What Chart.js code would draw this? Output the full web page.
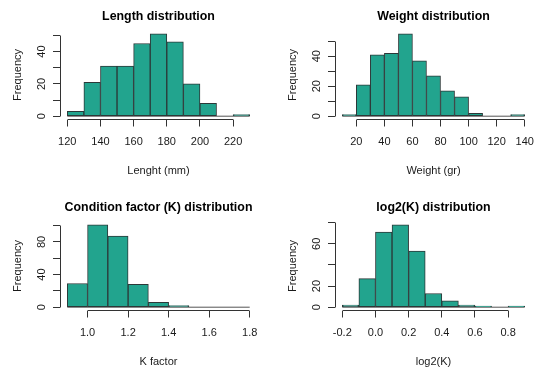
<!DOCTYPE html>
<html>
<head>
<meta charset="utf-8">
<script src="https://cdn.jsdelivr.net/npm/chart.js@4.4.1/dist/chart.umd.min.js"></script>
<style>
  html, body { margin: 0; padding: 0; background: #fff; }
  #wrap { position: relative; width: 550px; height: 377px; overflow: hidden; }
  canvas { position: absolute; }
</style>
</head>
<body>
<div id="wrap">
  <canvas id="lengthHist" width="275" height="186" style="left:0;top:0"></canvas>
  <canvas id="weightHist" width="275" height="186" style="left:275px;top:0"></canvas>
  <canvas id="kHist" width="275" height="186" style="left:0;top:191px"></canvas>
  <canvas id="log2kHist" width="275" height="186" style="left:275px;top:191px"></canvas>
</div>
<script>
// bin edges + counts
const lengthEdges = [120, 130, 140, 150, 160, 170, 180, 190, 200, 210, 220, 230];
const lengthCounts = [3, 21, 31, 31, 45, 51, 46, 20, 8, 0, 1];
const lengthXTicks = [120, 140, 160, 180, 200, 220];
const lengthYTicks = [0, 10, 20, 30, 40, 50];
const lengthYLabels = [0, 20, 40];

const weightEdges = [10, 20, 30, 40, 50, 60, 70, 80, 90, 100, 110, 120, 130, 140];
const weightCounts = [1, 21, 41, 42, 55, 37, 27, 17, 13, 2, 0, 0, 1];
const weightXTicks = [20, 40, 60, 80, 100, 120, 140];
const weightYTicks = [0, 10, 20, 30, 40, 50];
const weightYLabels = [0, 20, 40];

const kEdges = [0.9, 1.0, 1.1, 1.2, 1.3, 1.4, 1.5, 1.6, 1.7, 1.8];
const kCounts = [29, 101, 87, 28, 6, 2, 0, 0, 0];
const kXTicks = [1.0, 1.2, 1.4, 1.6, 1.8];
const kYTicks = [0, 20, 40, 60, 80, 100];
const kYLabels = [0, 40, 80];

const log2kEdges = [-0.2, -0.1, 0.0, 0.1, 0.2, 0.3, 0.4, 0.5, 0.6, 0.7, 0.8, 0.9];
const log2kCounts = [2, 27, 71, 78, 53, 13, 6, 2, 1, 0, 1];
const log2kXTicks = [-0.2, 0.0, 0.2, 0.4, 0.6, 0.8];
const log2kYTicks = [0, 20, 40, 60, 80];
const log2kYLabels = [0, 20, 60];

const FILL = '#22a48e';
const EDGE = '#2c3838';
const AXIS = '#333333';

Chart.defaults.font.family = "'Liberation Sans', Arial, sans-serif";
Chart.defaults.font.size = 11;
Chart.defaults.color = '#1a1a1a';

const align = p => Math.round(p - 0.5) + 0.5;

// R style axis lines: only from first to last tick
const rAxes = {
  id: 'rAxes',
  afterDraw(chart) {
    const { ctx, chartArea, scales: { x, y } } = chart;
    ctx.save();
    ctx.strokeStyle = AXIS;
    ctx.lineWidth = 1;
    ctx.beginPath();
    const xl = align(chartArea.left);
    ctx.moveTo(xl, align(y.getPixelForValue(y.ticks[0].value)));
    ctx.lineTo(xl, align(y.getPixelForValue(y.ticks[y.ticks.length - 1].value)));
    const yb = align(chartArea.bottom);
    ctx.moveTo(align(x.getPixelForValue(x.ticks[0].value)), yb);
    ctx.lineTo(align(x.getPixelForValue(x.ticks[x.ticks.length - 1].value)), yb);
    ctx.stroke();
    ctx.restore();
  }
};

function makeHist(id, title, xTitle, edges, counts, xTicks, yTicks, yLabels, digits) {
  const lo = edges[0], hi = edges[edges.length - 1];
  const top = Math.max(...counts);
  const bins = counts.map((c, i) => ({ x: (edges[i] + edges[i + 1]) / 2, y: c }));

  return new Chart(document.getElementById(id), {
    type: 'bar',
    data: {
      datasets: [
        {
          data: bins,
          backgroundColor: FILL,
          borderColor: EDGE,
          borderWidth: 1,
          borderSkipped: false,
          barPercentage: 1,
          categoryPercentage: 1,
          order: 1,
        },
        {
          // empty bins still show as a flat line in R
          type: 'line',
          data: [{ x: lo, y: 0 }, { x: hi, y: 0 }],
          borderColor: '#555555',
          borderWidth: 1,
          pointRadius: 0,
          order: 2,
        },
      ],
    },
    options: {
      responsive: false,
      animation: false,
      layout: { padding: { left: 0, right: 18, top: 0, bottom: 0 } },
      plugins: {
        legend: { display: false },
        tooltip: { enabled: false },
        title: {
          display: true,
          text: title,
          fullSize: false,
          color: '#000',
          font: { size: 12.4, weight: 'bold' },
          padding: { top: 9, bottom: 6.6 },
        },
      },
      scales: {
        x: {
          type: 'linear',
          offset: false,
          min: lo - 0.04 * (hi - lo),
          max: hi + 0.04 * (hi - lo),
          afterBuildTicks: (s) => { s.ticks = xTicks.map((v) => ({ value: v })); },
          afterFit: (s) => { s.height = 66.5; },
          grid: { offset: false, drawOnChartArea: false, drawTicks: true, tickLength: 7, color: AXIS },
          border: { display: false },
          ticks: { padding: 9, maxRotation: 0, autoSkip: false, callback: (v) => v.toFixed(digits) },
          title: { display: true, text: xTitle, padding: { top: 0, bottom: 8.7 } },
        },
        y: {
          min: -0.04 * top,
          max: 1.04 * top,
          afterBuildTicks: (s) => { s.ticks = yTicks.map((v) => ({ value: v })); },
          afterFit: (s) => { s.width = 60; },
          grid: { drawOnChartArea: false, drawTicks: true, tickLength: 7, color: AXIS },
          border: { display: false },
          ticks: {
            padding: 5,
            minRotation: 90,
            maxRotation: 90,
            crossAlign: 'center',
            autoSkip: false,
            callback: (v) => (yLabels.includes(v) ? String(v) : ''),
          },
          title: { display: true, text: 'Frequency', padding: { top: 11.7, bottom: 0 } },
        },
      },
    },
    plugins: [rAxes],
  });
}

makeHist('lengthHist', 'Length distribution', 'Lenght (mm)',
  lengthEdges, lengthCounts, lengthXTicks, lengthYTicks, lengthYLabels, 0);
makeHist('weightHist', 'Weight distribution', 'Weight (gr)',
  weightEdges, weightCounts, weightXTicks, weightYTicks, weightYLabels, 0);
makeHist('kHist', 'Condition factor (K) distribution', 'K factor',
  kEdges, kCounts, kXTicks, kYTicks, kYLabels, 1);
makeHist('log2kHist', 'log2(K) distribution', 'log2(K)',
  log2kEdges, log2kCounts, log2kXTicks, log2kYTicks, log2kYLabels, 1);
</script>
</body>
</html>
